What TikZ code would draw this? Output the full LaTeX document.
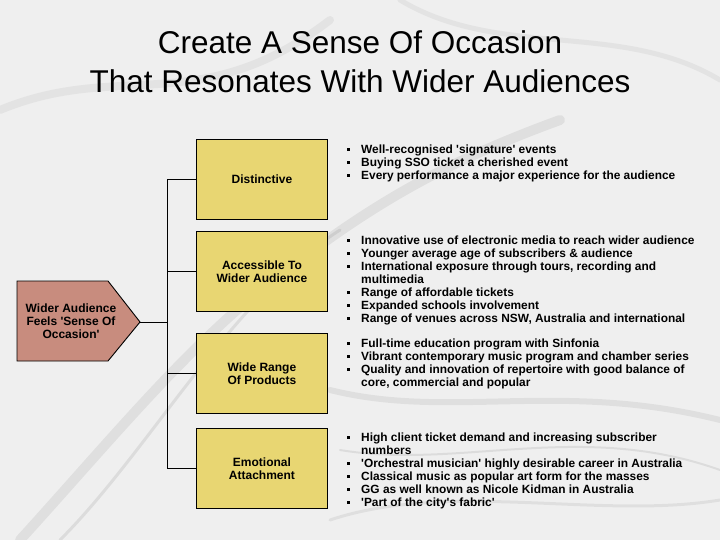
\documentclass[tikz,border=0pt]{standalone}
\usepackage{fontspec}
\setmainfont{Liberation Sans}
\definecolor{bg}{RGB}{239,239,239}
\definecolor{boxyellow}{RGB}{232,214,114}
\definecolor{pentfill}{RGB}{200,140,126}
\definecolor{smoke}{RGB}{90,90,90}
\newcommand{\bl}{\makebox[14pt][l]{\raisebox{2.6pt}{\rule{3pt}{3pt}}}}
\newcommand{\ind}{\hspace*{14pt}}
\newcommand{\sq}{\textquotesingle}
\begin{document}
\begin{tikzpicture}[x=1pt,y=-1pt,
  titletext/.style={font=\fontsize{31.5}{39}\selectfont, align=center, inner sep=0, anchor=north},
  ybox/.style={draw=black, line width=0.9pt, fill=boxyellow, minimum width=131pt, minimum height=80pt,
    anchor=north west, inner sep=0, align=center, font=\bfseries\fontsize{12}{13}\selectfont},
  blist/.style={font=\bfseries\fontsize{11.9}{13}\selectfont, align=left, inner sep=0, anchor=north west},
  conn/.style={draw=black, line width=0.9pt},
  wisp/.style={draw=smoke, line cap=round}]
\useasboundingbox (0,0) rectangle (720,540);
\fill[bg] (0,0) rectangle (720,540);
% faint smoke in the background
\begin{scope}
\draw[wisp, opacity=0.10, line width=10pt] (20,540) .. controls (120,430) and (200,330) .. (300,260) .. controls (380,200) and (450,160) .. (560,120);
\draw[wisp, opacity=0.12, line width=3pt] (60,540) .. controls (150,450) and (230,300) .. (340,230);
\draw[wisp, opacity=0.10, line width=6pt] (330,390) .. controls (450,420) and (560,380) .. (720,420);
\draw[wisp, opacity=0.12, line width=2pt] (340,450) .. controls (460,470) and (580,420) .. (720,470);
\draw[wisp, opacity=0.08, line width=8pt] (0,110) .. controls (120,60) and (200,120) .. (330,20);
\draw[wisp, opacity=0.08, line width=5pt] (400,0) .. controls (500,60) and (620,20) .. (720,80);
\draw[wisp, opacity=0.10, line width=3pt] (330,520) .. controls (450,480) and (600,520) .. (720,500);
\end{scope}
% title
\node[titletext] (title) at (360,30) {Create A Sense Of Occasion\\That Resonates With Wider Audiences};
% pentagon
\fill[pentfill, draw=black, line width=0.9pt] (17,281) -- (108,281) -- (140,322) -- (108,361) -- (17,361) -- cycle;
\coordinate (ptip) at (140,322);
\node[font=\bfseries\fontsize{12}{13}\selectfont, align=center, inner sep=0] (pent) at (71,321) {Wider Audience\\Feels \sq Sense Of\\Occasion\sq};
% boxes
\node[ybox] (b1) at (196,139) {Distinctive};
\node[ybox] (b2) at (196,231) {Accessible To\\Wider Audience};
\node[ybox] (b3) at (196,333) {Wide Range\\Of Products};
\node[ybox] (b4) at (196,428) {Emotional\\Attachment};
% connectors
\coordinate (trunk) at (167,322);
\draw[conn] (b1.west) -- (b1.west -| trunk) -- (b4.west -| trunk) -- (b4.west);
\draw[conn] (b2.west) -- (b2.west -| trunk);
\draw[conn] (b3.west) -- (b3.west -| trunk);
\draw[conn] (ptip) -- (trunk);
% bullet lists
\node[blist] (l1) at (347,144.5) {\bl Well-recognised \sq signature\sq{} events\\
\bl Buying SSO ticket a cherished event\\
\bl Every performance a major experience for the audience};
\node[blist] (l2) at (347,235.3) {\bl Innovative use of electronic media to reach wider audience\\
\bl Younger average age of subscribers \& audience\\
\bl International exposure through tours, recording and\\
\ind multimedia\\
\bl Range of affordable tickets\\
\bl Expanded schools involvement\\
\bl Range of venues across NSW, Australia and international};
\node[blist] (l3) at (347,338.3) {\bl Full-time education program with Sinfonia\\
\bl Vibrant contemporary music program and chamber series\\
\bl Quality and innovation of repertoire with good balance of\\
\ind core, commercial and popular};
\node[blist] (l4) at (347,432.3) {\bl High client ticket demand and increasing subscriber\\
\ind numbers\\
\bl \sq Orchestral musician\sq{} highly desirable career in Australia\\
\bl Classical music as popular art form for the masses\\
\bl GG as well known as Nicole Kidman in Australia\\
\bl \sq Part of the city\sq s fabric\sq};
\end{tikzpicture}
\end{document}
